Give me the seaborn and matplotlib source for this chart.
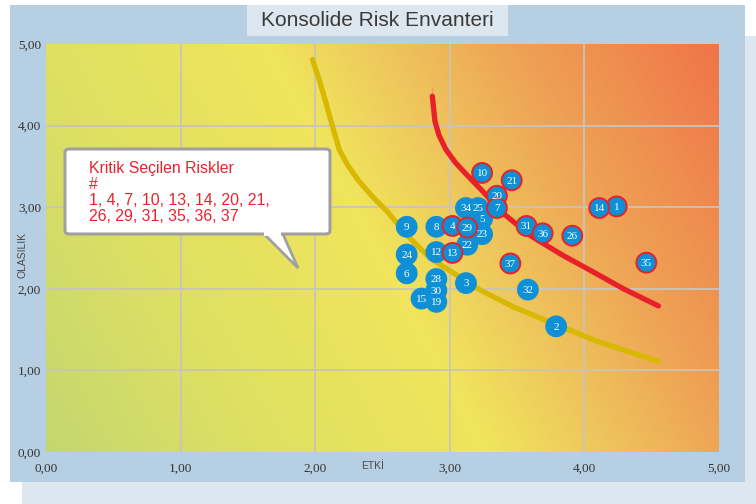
import numpy as np
import pandas as pd
import matplotlib
matplotlib.use("Agg")
import matplotlib.pyplot as plt
from matplotlib.patches import Rectangle, FancyBboxPatch, Polygon
import seaborn as sns

# ---------------- data ----------------
risk_ids = [2, 3, 5, 6, 8, 9, 12, 15, 22, 23, 24, 25, 28, 30, 19, 32, 34,
            1, 14, 10, 21, 20, 7, 4, 29, 13, 31, 36, 26, 37, 35]
impact = [3.79, 3.12, 3.24, 2.68, 2.90, 2.68, 2.90, 2.79, 3.13, 3.24, 2.68, 3.21, 2.90, 2.90, 2.90, 3.58, 3.12,
          4.24, 4.11, 3.24, 3.46, 3.35, 3.35, 3.02, 3.13, 3.02, 3.57, 3.69, 3.91, 3.45, 4.46]
likelihood = [1.54, 2.07, 2.86, 2.19, 2.76, 2.76, 2.45, 1.88, 2.54, 2.67, 2.42, 2.99, 2.12, 1.98, 1.84, 1.99, 2.99,
              3.01, 2.99, 3.42, 3.33, 3.14, 2.99, 2.77, 2.75, 2.44, 2.77, 2.68, 2.65, 2.31, 2.32]
critical = [1, 4, 7, 10, 13, 14, 20, 21, 26, 29, 31, 35, 36, 37]

# threshold curves
yellow_x = [1.98, 2.03, 2.08, 2.13, 2.18, 2.24, 2.32, 2.42, 2.54, 2.68, 2.85, 3.03, 3.22, 3.47, 3.79, 4.09, 4.55]
yellow_y = [4.81, 4.56, 4.28, 3.98, 3.70, 3.52, 3.33, 3.14, 2.94, 2.66, 2.38, 2.19, 1.99, 1.78, 1.56, 1.36, 1.11]
red_x = [2.87, 2.87, 2.89, 2.92, 2.97, 3.04, 3.13, 3.23, 3.40, 3.60, 3.84, 4.04, 4.29, 4.55]
red_y = [4.47, 4.25, 4.05, 3.88, 3.71, 3.55, 3.39, 3.22, 2.92, 2.65, 2.41, 2.23, 2.00, 1.79]

tick_values = [0, 1, 2, 3, 4, 5]
tick_labels = ["0,00", "1,00", "2,00", "3,00", "4,00", "5,00"]

title = "Konsolide Risk Envanteri"
x_label = "ETKİ"
y_label = "OLASILIK"
callout_title = "Kritik Seçilen Riskler"

# ---------------- figure ----------------
W, H = 756, 504
fig = plt.figure(figsize=(W / 100, H / 100), dpi=100)
fig.patch.set_facecolor("white")

def fx(px):
    return px / W

def fy(py):
    return 1 - py / H

# background panels
fig.patches.append(Rectangle((fx(22), 0), 1 - fx(22), fy(36), transform=fig.transFigure,
                             facecolor="#dde7f0", edgecolor="none", zorder=0))
fig.patches.append(Rectangle((fx(10), fy(482)), fx(745) - fx(10), fy(5) - fy(482),
                             transform=fig.transFigure, facecolor="#b7cfe3", edgecolor="none", zorder=1))
fig.patches.append(Rectangle((fx(247), fy(36)), fx(508) - fx(247), fy(5) - fy(36),
                             transform=fig.transFigure, facecolor="#dde7f0", edgecolor="none", zorder=2))
fig.text((fx(247) + fx(508)) / 2, fy(20.5), title, ha="center", va="center",
         fontsize=15, color="#3a3a3a", family="Liberation Sans", zorder=3)

ax = fig.add_axes([fx(46), fy(452), fx(719) - fx(46), fy(44) - fy(452)])
ax.set_zorder(3)

# gradient background (diagonal)
gx = np.linspace(0, 5, 400)
gy = np.linspace(0, 5, 400)
GX, GY = np.meshgrid(gx, gy)
T = GX + 0.33 * GY
stops_t = [0.0, 1.6, 3.3, 4.2, 5.0, 6.65]
stops_c = np.array([[196, 215, 112], [222, 224, 98], [240, 229, 92], [238, 196, 92],
                    [238, 166, 86], [240, 116, 72]]) / 255.0
img = np.dstack([np.interp(T, stops_t, stops_c[:, k]) for k in range(3)])
ax.imshow(img, extent=[0, 5, 0, 5], origin="lower", aspect="auto", zorder=0)

ax.set_xlim(0, 5)
ax.set_ylim(0, 5)
for s in ax.spines.values():
    s.set_visible(False)
ax.set_xticks(tick_values)
ax.set_yticks(tick_values)
ax.set_xticklabels(tick_labels)
ax.set_yticklabels(tick_labels)
ax.tick_params(length=0, labelsize=9.5, labelcolor="#333333")
ax.tick_params(axis="x", pad=8)
ax.tick_params(axis="y", pad=3.5)
for lab in ax.get_xticklabels() + ax.get_yticklabels():
    lab.set_family("Liberation Serif")
ax.set_axisbelow(True)
for v in [1, 2, 3, 4]:
    ax.axvline(v, color="#c9c4bc", lw=1.3, zorder=0.5)
    ax.axhline(v, color="#c9c4bc", lw=1.3, zorder=0.5)

# curves
sns.lineplot(x=yellow_x, y=yellow_y, sort=False, ax=ax, color="#d8b800", lw=3.8,
             solid_capstyle="round", solid_joinstyle="round", zorder=2)
sns.lineplot(x=red_x, y=red_y, sort=False, ax=ax, color="#e8202a", lw=3.8,
             solid_capstyle="round", solid_joinstyle="round", zorder=2)

# bubbles
df = pd.DataFrame({"id": risk_ids, "impact": impact, "likelihood": likelihood})
df["critical"] = df["id"].isin(critical)
edges = ["#e4232b" if c else "#1290d6" for c in df["critical"]]
sns.scatterplot(data=df, x="impact", y="likelihood", ax=ax, s=205, color="#0d90d6",
                edgecolor=edges, linewidth=1.4, zorder=4, legend=False)
ax.set_xlabel("")
ax.set_ylabel("")
for _, r in df.iterrows():
    ax.text(r["impact"], r["likelihood"] - 0.01, str(r["id"]), ha="center", va="center",
            fontsize=8, color="white", family="Liberation Serif", zorder=5)

# axis titles
fig.text(fx(373), fy(466), x_label, ha="center", va="center", fontsize=7.5,
         color="#4a4a4a", family="Liberation Sans", zorder=4)
fig.text(fx(23), fy(255), y_label, ha="center", va="center", rotation=90, fontsize=7.5,
         color="#4a4a4a", family="Liberation Sans", zorder=4)

# callout
crit_sorted = sorted(critical)
line1 = ", ".join(str(c) for c in crit_sorted[:8]) + ","
line2 = ", ".join(str(c) for c in crit_sorted[8:])
tail = Polygon([(fx(262), fy(232)), (fx(298), fy(268)), (fx(282), fy(232))], closed=True,
               transform=fig.transFigure, facecolor="white", edgecolor="#a0a0a0", lw=2, zorder=6)
fig.patches.append(tail)
box = FancyBboxPatch((fx(65), fy(234)), fx(330) - fx(65), fy(149) - fy(234),
                     boxstyle="round,pad=0,rounding_size=0.006", transform=fig.transFigure,
                     facecolor="white", edgecolor="#a0a0a0", lw=2.2, zorder=7)
fig.patches.append(box)
fig.patches.append(Rectangle((fx(263.5), fy(236)), fx(281) - fx(263.5), fy(231) - fy(236),
                             transform=fig.transFigure, facecolor="white", edgecolor="none", zorder=8))
for i, t in enumerate([callout_title, "#", line1, line2]):
    fig.text(fx(89), fy(169 + i * 15.7), t, ha="left", va="center", fontsize=11.4,
             color="#e8232d", family="Liberation Sans", zorder=9)

fig.savefig("out.png", dpi=100, facecolor="white")
